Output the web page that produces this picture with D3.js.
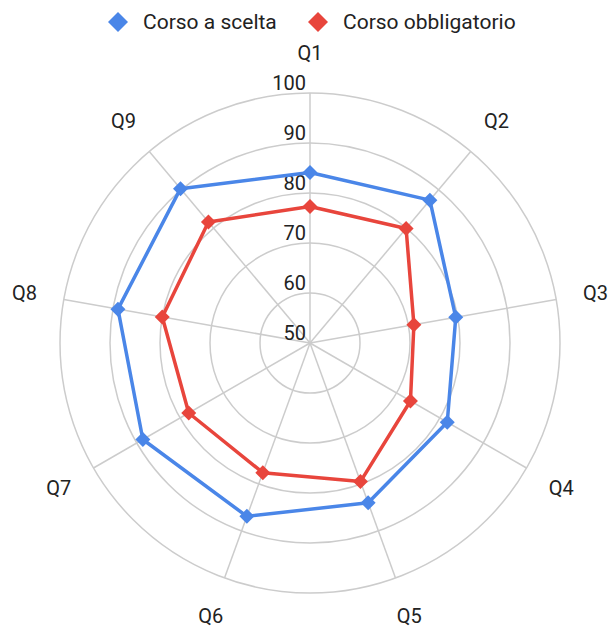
<!DOCTYPE html>
<html>
<head>
<meta charset="utf-8">
<script src="https://cdn.jsdelivr.net/npm/d3@7"></script>
<style>
  body { margin: 0; background: #fff; }
  svg { font-family: Roboto, "Noto Sans", sans-serif; }
</style>
</head>
<body>
<svg id="chart"></svg>
<script>
var width = 610;
var height = 632;

var questions = ["Q1", "Q2", "Q3", "Q4", "Q5", "Q6", "Q7", "Q8", "Q9"];
var sceltaValues = [84.1, 87.3, 79.6, 81.7, 84.0, 86.9, 88.6, 89.0, 90.3];
var obbligValues = [77.3, 79.9, 71.1, 73.2, 79.5, 77.6, 78.0, 80.0, 81.6];
var ticks = [50, 60, 70, 80, 90, 100];
var seriesNames = ["Corso a scelta", "Corso obbligatorio"];
var colors = ["#4a86e8", "#e8453c"];

var cx = 310, cy = 343, outer = 250;

var r = d3.scaleLinear().domain([50, 100]).range([0, outer]);
var angle = d3.scalePoint().domain(questions).range([0, 2 * Math.PI * 8 / 9]);

var svg = d3.select("#chart").attr("width", width).attr("height", height);
var g = svg.append("g").attr("transform", "translate(" + cx + "," + cy + ")");

function px(a, rad) { return Math.sin(a) * rad; }
function py(a, rad) { return -Math.cos(a) * rad; }

// grid rings
g.selectAll("circle.ring").data(ticks.slice(1)).enter().append("circle")
  .attr("class", "ring")
  .attr("r", function(d) { return r(d); })
  .attr("fill", "none")
  .attr("stroke", "#cccccc")
  .attr("stroke-width", 1.5);

// spokes
g.selectAll("line.spoke").data(questions).enter().append("line")
  .attr("x1", 0).attr("y1", 0)
  .attr("x2", function(d) { return px(angle(d), outer); })
  .attr("y2", function(d) { return py(angle(d), outer); })
  .attr("stroke", "#cccccc")
  .attr("stroke-width", 1.5);

// tick labels
g.selectAll("text.tick").data(ticks).enter().append("text")
  .attr("x", -4)
  .attr("y", function(d) { return -r(d) - 3; })
  .attr("text-anchor", "end")
  .attr("font-size", 20)
  .attr("fill", "#222")
  .text(function(d) { return d; });

// axis labels
g.selectAll("text.qlabel").data(questions).enter().append("text")
  .attr("x", function(d) { return px(angle(d), 290); })
  .attr("y", function(d) { return py(angle(d), 290); })
  .attr("text-anchor", "middle")
  .attr("dominant-baseline", "central")
  .attr("font-size", 20)
  .attr("fill", "#222")
  .text(function(d) { return d; });

function diamond(s) {
  return "M0," + (-s) + "L" + s + ",0L0," + s + "L" + (-s) + ",0Z";
}

var series = [sceltaValues, obbligValues];
var line = d3.lineRadial()
  .angle(function(d, i) { return angle(questions[i]); })
  .radius(function(d) { return r(d); })
  .curve(d3.curveLinearClosed);

series.forEach(function(vals, k) {
  g.append("path")
    .attr("d", line(vals))
    .attr("fill", "none")
    .attr("stroke", colors[k])
    .attr("stroke-width", 3.5)
    .attr("stroke-linejoin", "round");
  g.selectAll("path.pt" + k).data(vals).enter().append("path")
    .attr("d", diamond(7.5))
    .attr("transform", function(d, i) {
      var a = angle(questions[i]);
      return "translate(" + px(a, r(d)) + "," + py(a, r(d)) + ")";
    })
    .attr("fill", colors[k]);
});

// legend
var legendX = [118, 318];
var legend = svg.selectAll("g.legend").data(seriesNames).enter().append("g")
  .attr("transform", function(d, i) { return "translate(" + legendX[i] + ",22)"; });
legend.append("path").attr("d", diamond(10)).attr("fill", function(d, i) { return colors[i]; });
legend.append("text")
  .attr("x", 25)
  .attr("dominant-baseline", "central")
  .attr("font-size", 21)
  .attr("fill", "#222")
  .text(function(d) { return d; });
</script>
</body>
</html>
